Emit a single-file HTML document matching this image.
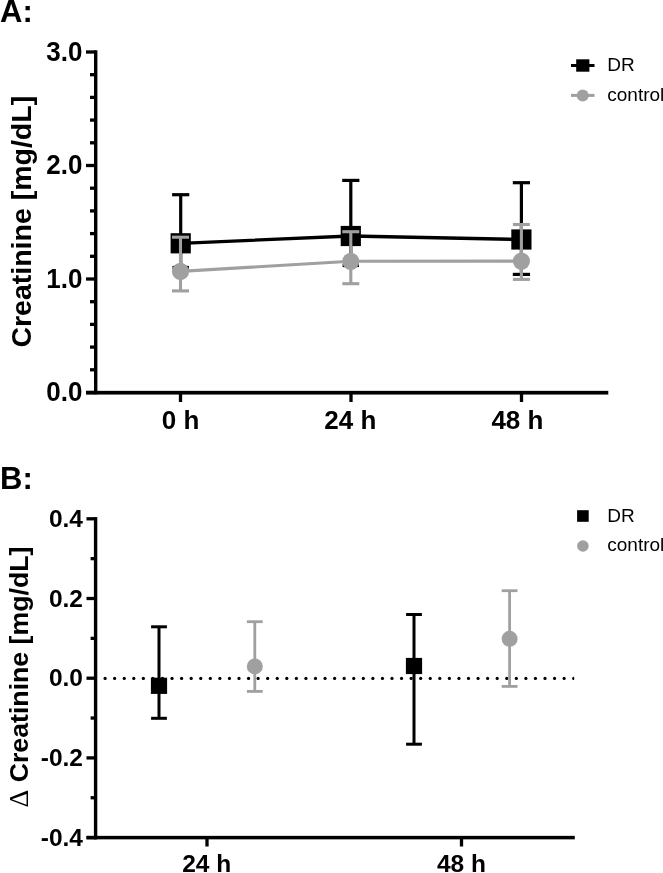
<!DOCTYPE html>
<html><head><meta charset="utf-8"><title>Creatinine</title>
<style>
html,body{margin:0;padding:0;background:#fff;width:663px;height:873px;overflow:hidden}
svg{display:block;font-family:"Liberation Sans", sans-serif;will-change:transform}
</style></head>
<body>
<svg width="663" height="873" viewBox="0 0 663 873">
<defs><clipPath id="clipB"><rect x="98" y="670" width="476.2" height="20"/></clipPath></defs>
<text x="0.00" y="22.00" font-size="31" font-weight="bold" text-anchor="start" fill="#000000" >A:</text>
<text x="0.00" y="488.70" font-size="31" font-weight="bold" text-anchor="start" fill="#000000" >B:</text>
<rect x="94.00" y="50.30" width="3.40" height="344.00" fill="#000000"/>
<rect x="86.00" y="390.85" width="9.70" height="3.30" fill="#000000"/>
<rect x="86.00" y="277.35" width="9.70" height="3.30" fill="#000000"/>
<rect x="86.00" y="163.85" width="9.70" height="3.30" fill="#000000"/>
<rect x="86.00" y="50.35" width="9.70" height="3.30" fill="#000000"/>
<rect x="90.00" y="368.15" width="5.70" height="3.30" fill="#000000"/>
<rect x="90.00" y="345.45" width="5.70" height="3.30" fill="#000000"/>
<rect x="90.00" y="322.75" width="5.70" height="3.30" fill="#000000"/>
<rect x="90.00" y="300.05" width="5.70" height="3.30" fill="#000000"/>
<rect x="90.00" y="254.65" width="5.70" height="3.30" fill="#000000"/>
<rect x="90.00" y="231.95" width="5.70" height="3.30" fill="#000000"/>
<rect x="90.00" y="209.25" width="5.70" height="3.30" fill="#000000"/>
<rect x="90.00" y="186.55" width="5.70" height="3.30" fill="#000000"/>
<rect x="90.00" y="141.15" width="5.70" height="3.30" fill="#000000"/>
<rect x="90.00" y="118.45" width="5.70" height="3.30" fill="#000000"/>
<rect x="90.00" y="95.75" width="5.70" height="3.30" fill="#000000"/>
<rect x="90.00" y="73.05" width="5.70" height="3.30" fill="#000000"/>
<rect x="86.00" y="390.85" width="522.30" height="3.70" fill="#000000"/>
<rect x="178.85" y="392.50" width="3.30" height="9.50" fill="#000000"/>
<rect x="349.35" y="392.50" width="3.30" height="9.50" fill="#000000"/>
<rect x="519.85" y="392.50" width="3.30" height="9.50" fill="#000000"/>
<text transform="translate(82.50 401.00) scale(1 1.04)" font-size="26" font-weight="bold" text-anchor="end" fill="#000000" >0.0</text>
<text transform="translate(82.50 287.50) scale(1 1.04)" font-size="26" font-weight="bold" text-anchor="end" fill="#000000" >1.0</text>
<text transform="translate(82.50 174.00) scale(1 1.04)" font-size="26" font-weight="bold" text-anchor="end" fill="#000000" >2.0</text>
<text transform="translate(82.50 60.50) scale(1 1.04)" font-size="26" font-weight="bold" text-anchor="end" fill="#000000" >3.0</text>
<text x="180.50" y="429.30" font-size="26" font-weight="bold" text-anchor="middle" fill="#000000" >0 h</text>
<text x="350.30" y="429.30" font-size="26" font-weight="bold" text-anchor="middle" fill="#000000" >24 h</text>
<text x="517.40" y="429.30" font-size="26" font-weight="bold" text-anchor="middle" fill="#000000" >48 h</text>
<text x="0" y="0" font-size="28.5" font-weight="bold" text-anchor="middle" transform="translate(31 221.7) rotate(-90)">Creatinine [mg/dL]</text>
<polyline points="180.7,243.3 350.8,236.0 521.4,239.5" fill="none" stroke="#000000" stroke-width="3.3"/>
<rect x="179.10" y="194.70" width="3.20" height="72.80" fill="#000000"/>
<rect x="172.10" y="193.10" width="17.20" height="3.20" fill="#000000"/>
<rect x="172.50" y="265.90" width="16.40" height="3.20" fill="#000000"/>
<rect x="349.20" y="180.40" width="3.20" height="85.10" fill="#000000"/>
<rect x="342.20" y="178.80" width="17.20" height="3.20" fill="#000000"/>
<rect x="342.60" y="263.90" width="16.40" height="3.20" fill="#000000"/>
<rect x="519.80" y="182.70" width="3.20" height="91.70" fill="#000000"/>
<rect x="512.80" y="181.10" width="17.20" height="3.20" fill="#000000"/>
<rect x="512.80" y="272.80" width="17.20" height="3.20" fill="#000000"/>
<rect x="170.60" y="233.20" width="20.20" height="20.20" fill="#000000"/>
<rect x="340.70" y="225.90" width="20.20" height="20.20" fill="#000000"/>
<rect x="511.30" y="229.40" width="20.20" height="20.20" fill="#000000"/>
<polyline points="180.5,271.4 350.8,261.3 521.4,261.1" fill="none" stroke="#a0a0a0" stroke-width="3.1"/>
<rect x="178.95" y="237.20" width="3.10" height="53.70" fill="#a0a0a0"/>
<rect x="172.00" y="235.65" width="17.00" height="3.10" fill="#a0a0a0"/>
<rect x="172.00" y="289.35" width="17.00" height="3.10" fill="#a0a0a0"/>
<rect x="349.25" y="231.70" width="3.10" height="52.00" fill="#a0a0a0"/>
<rect x="342.30" y="230.15" width="17.00" height="3.10" fill="#a0a0a0"/>
<rect x="342.30" y="282.15" width="17.00" height="3.10" fill="#a0a0a0"/>
<rect x="519.85" y="224.50" width="3.10" height="54.90" fill="#a0a0a0"/>
<rect x="512.90" y="222.95" width="17.00" height="3.10" fill="#a0a0a0"/>
<rect x="512.90" y="277.85" width="17.00" height="3.10" fill="#a0a0a0"/>
<circle cx="180.50" cy="271.40" r="8.6" fill="#a0a0a0"/>
<circle cx="350.80" cy="261.30" r="8.6" fill="#a0a0a0"/>
<circle cx="521.40" cy="261.10" r="8.6" fill="#a0a0a0"/>
<rect x="571.00" y="64.00" width="23.50" height="3.00" fill="#000000"/>
<rect x="576.20" y="59.30" width="13.20" height="12.40" fill="#000000"/>
<text x="607.30" y="71.40" font-size="19" font-weight="normal" text-anchor="start" fill="#000000" >DR</text>
<rect x="571.00" y="93.90" width="23.50" height="3.00" fill="#a0a0a0"/>
<circle cx="582.7" cy="95.4" r="6.0" fill="#a0a0a0"/>
<text x="607.30" y="100.80" font-size="19" font-weight="normal" text-anchor="start" fill="#000000" >control</text>
<rect x="93.90" y="517.10" width="3.40" height="322.30" fill="#000000"/>
<rect x="86.50" y="835.95" width="9.10" height="3.30" fill="#000000"/>
<rect x="86.50" y="756.25" width="9.10" height="3.30" fill="#000000"/>
<rect x="86.50" y="676.55" width="9.10" height="3.30" fill="#000000"/>
<rect x="86.50" y="596.85" width="9.10" height="3.30" fill="#000000"/>
<rect x="86.50" y="517.15" width="9.10" height="3.30" fill="#000000"/>
<rect x="90.60" y="796.10" width="5.00" height="3.30" fill="#000000"/>
<rect x="90.60" y="716.40" width="5.00" height="3.30" fill="#000000"/>
<rect x="90.60" y="636.70" width="5.00" height="3.30" fill="#000000"/>
<rect x="90.60" y="557.00" width="5.00" height="3.30" fill="#000000"/>
<rect x="86.50" y="835.85" width="488.30" height="3.50" fill="#000000"/>
<rect x="205.35" y="837.60" width="3.30" height="8.90" fill="#000000"/>
<rect x="459.85" y="837.60" width="3.30" height="8.90" fill="#000000"/>
<text x="83.00" y="526.80" font-size="24.5" font-weight="bold" text-anchor="end" fill="#000000" >0.4</text>
<text x="83.00" y="606.50" font-size="24.5" font-weight="bold" text-anchor="end" fill="#000000" >0.2</text>
<text x="83.00" y="686.20" font-size="24.5" font-weight="bold" text-anchor="end" fill="#000000" >0.0</text>
<text x="83.00" y="765.90" font-size="24.5" font-weight="bold" text-anchor="end" fill="#000000" >-0.2</text>
<text x="83.00" y="845.60" font-size="24.5" font-weight="bold" text-anchor="end" fill="#000000" >-0.4</text>
<text x="206.70" y="871.90" font-size="24.5" font-weight="bold" text-anchor="middle" fill="#000000" >24 h</text>
<text x="461.40" y="871.90" font-size="24.5" font-weight="bold" text-anchor="middle" fill="#000000" >48 h</text>
<text x="0" y="0" font-size="26.7" font-weight="bold" text-anchor="middle" transform="translate(28 677.0) rotate(-90)"><tspan font-weight="normal" font-family="Liberation Serif, serif" font-size="27.5">Δ</tspan> Creatinine [mg/dL]</text>
<g fill="#000" clip-path="url(#clipB)"><circle cx="105.10" cy="678.4" r="1.6"/><circle cx="114.66" cy="678.4" r="1.6"/><circle cx="124.23" cy="678.4" r="1.6"/><circle cx="133.79" cy="678.4" r="1.6"/><circle cx="143.35" cy="678.4" r="1.6"/><circle cx="152.91" cy="678.4" r="1.6"/><circle cx="162.48" cy="678.4" r="1.6"/><circle cx="172.04" cy="678.4" r="1.6"/><circle cx="181.60" cy="678.4" r="1.6"/><circle cx="191.17" cy="678.4" r="1.6"/><circle cx="200.73" cy="678.4" r="1.6"/><circle cx="210.29" cy="678.4" r="1.6"/><circle cx="219.86" cy="678.4" r="1.6"/><circle cx="229.42" cy="678.4" r="1.6"/><circle cx="238.98" cy="678.4" r="1.6"/><circle cx="248.54" cy="678.4" r="1.6"/><circle cx="258.11" cy="678.4" r="1.6"/><circle cx="267.67" cy="678.4" r="1.6"/><circle cx="277.23" cy="678.4" r="1.6"/><circle cx="286.80" cy="678.4" r="1.6"/><circle cx="296.36" cy="678.4" r="1.6"/><circle cx="305.92" cy="678.4" r="1.6"/><circle cx="315.49" cy="678.4" r="1.6"/><circle cx="325.05" cy="678.4" r="1.6"/><circle cx="334.61" cy="678.4" r="1.6"/><circle cx="344.17" cy="678.4" r="1.6"/><circle cx="353.74" cy="678.4" r="1.6"/><circle cx="363.30" cy="678.4" r="1.6"/><circle cx="372.86" cy="678.4" r="1.6"/><circle cx="382.43" cy="678.4" r="1.6"/><circle cx="391.99" cy="678.4" r="1.6"/><circle cx="401.55" cy="678.4" r="1.6"/><circle cx="411.12" cy="678.4" r="1.6"/><circle cx="420.68" cy="678.4" r="1.6"/><circle cx="430.24" cy="678.4" r="1.6"/><circle cx="439.80" cy="678.4" r="1.6"/><circle cx="449.37" cy="678.4" r="1.6"/><circle cx="458.93" cy="678.4" r="1.6"/><circle cx="468.49" cy="678.4" r="1.6"/><circle cx="478.06" cy="678.4" r="1.6"/><circle cx="487.62" cy="678.4" r="1.6"/><circle cx="497.18" cy="678.4" r="1.6"/><circle cx="506.75" cy="678.4" r="1.6"/><circle cx="516.31" cy="678.4" r="1.6"/><circle cx="525.87" cy="678.4" r="1.6"/><circle cx="535.43" cy="678.4" r="1.6"/><circle cx="545.00" cy="678.4" r="1.6"/><circle cx="554.56" cy="678.4" r="1.6"/><circle cx="564.12" cy="678.4" r="1.6"/><circle cx="573.69" cy="678.4" r="1.6"/></g>
<rect x="157.50" y="626.80" width="3.00" height="91.50" fill="#000000"/>
<rect x="151.10" y="625.30" width="15.80" height="3.00" fill="#000000"/>
<rect x="151.10" y="716.80" width="15.80" height="3.00" fill="#000000"/>
<rect x="150.90" y="677.70" width="16.20" height="16.20" fill="#000000"/>
<rect x="412.50" y="614.50" width="3.00" height="129.70" fill="#000000"/>
<rect x="406.10" y="613.00" width="15.80" height="3.00" fill="#000000"/>
<rect x="406.10" y="742.70" width="15.80" height="3.00" fill="#000000"/>
<rect x="405.90" y="657.90" width="16.20" height="16.20" fill="#000000"/>
<rect x="253.40" y="621.70" width="2.80" height="69.70" fill="#a0a0a0"/>
<rect x="246.90" y="620.30" width="15.80" height="2.80" fill="#a0a0a0"/>
<rect x="246.90" y="690.00" width="15.80" height="2.80" fill="#a0a0a0"/>
<circle cx="254.80" cy="666.40" r="8.0" fill="#a0a0a0"/>
<rect x="508.20" y="590.70" width="2.80" height="95.70" fill="#a0a0a0"/>
<rect x="501.70" y="589.30" width="15.80" height="2.80" fill="#a0a0a0"/>
<rect x="501.70" y="685.00" width="15.80" height="2.80" fill="#a0a0a0"/>
<circle cx="509.60" cy="638.80" r="8.0" fill="#a0a0a0"/>
<rect x="577.10" y="510.20" width="11.60" height="11.60" fill="#000000"/>
<text x="607.30" y="521.70" font-size="19" font-weight="normal" text-anchor="start" fill="#000000" >DR</text>
<circle cx="582.9" cy="546.0" r="5.8" fill="#a0a0a0"/>
<text x="607.30" y="551.00" font-size="19" font-weight="normal" text-anchor="start" fill="#000000" >control</text>
</svg>
</body></html>
